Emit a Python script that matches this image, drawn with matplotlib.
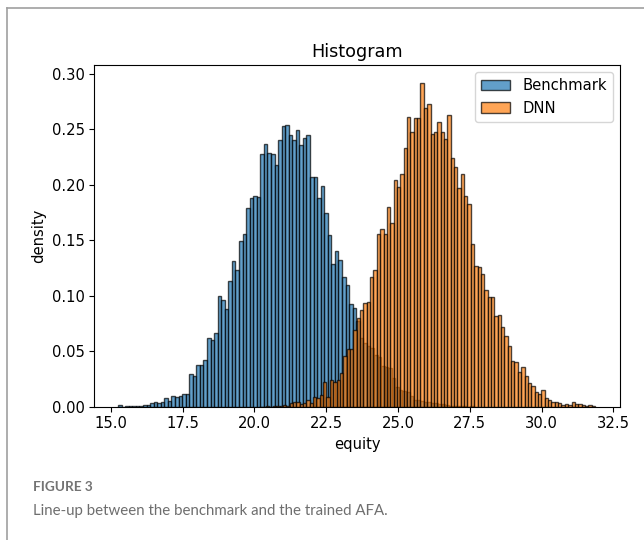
import numpy as np
import matplotlib.pyplot as plt
from matplotlib.lines import Line2D

# Benchmark histogram: 100 bins starting at 15.25
blue_start = 15.25
blue_width = 0.1238
blue_heights = [
    0.0015, 0.0, 0.0005, 0.0008, 0.0005, 0.0008, 0.001, 0.0012, 0.0015, 0.003,
    0.0045, 0.0035, 0.0045, 0.0075, 0.0055, 0.0095, 0.009, 0.010, 0.0117, 0.0117,
    0.0293, 0.0275, 0.038, 0.038, 0.042, 0.062, 0.060, 0.066, 0.100, 0.0964,
    0.088, 0.113, 0.131, 0.123, 0.149, 0.156, 0.179, 0.188, 0.190, 0.189,
    0.2275, 0.237, 0.229, 0.228, 0.218, 0.240, 0.253, 0.2535, 0.245, 0.240,
    0.249, 0.236, 0.242, 0.245, 0.207, 0.207, 0.1885, 0.199, 0.1743, 0.155,
    0.129, 0.140, 0.132, 0.117, 0.110, 0.093, 0.0887, 0.077, 0.062, 0.057,
    0.055, 0.053, 0.047, 0.045, 0.037, 0.036, 0.035, 0.026, 0.018, 0.015,
    0.014, 0.013, 0.010, 0.006, 0.006, 0.005, 0.004, 0.004, 0.003, 0.003,
    0.002, 0.002, 0.0015, 0.001, 0.001, 0.0008, 0.0005, 0.0005, 0.0, 0.0005,
]

# DNN histogram: 100 bins starting at 20.17
orange_start = 20.17
orange_width = 0.1169
orange_heights = [
    0.0, 0.0, 0.0005, 0.0, 0.0005, 0.0008, 0.001, 0.0015, 0.001, 0.0035,
    0.0045, 0.0045, 0.0025, 0.003, 0.006, 0.0036, 0.0084, 0.0075, 0.0105, 0.0225,
    0.009, 0.024, 0.0225, 0.024, 0.030, 0.046, 0.052, 0.052, 0.069, 0.080,
    0.0874, 0.0934, 0.0943, 0.1168, 0.1228, 0.1557, 0.160, 0.156, 0.1796, 0.166,
    0.2045, 0.1976, 0.2096, 0.233, 0.261, 0.248, 0.260, 0.260, 0.292, 0.2695,
    0.2725, 0.2455, 0.248, 0.257, 0.248, 0.241, 0.2626, 0.2246, 0.216, 0.1967,
    0.2096, 0.190, 0.1826, 0.147, 0.127, 0.1257, 0.1198, 0.105, 0.099, 0.0988,
    0.082, 0.083, 0.0718, 0.064, 0.0548, 0.041, 0.040, 0.031, 0.036, 0.028,
    0.021, 0.019, 0.013, 0.011, 0.015, 0.0075, 0.006, 0.0045, 0.004, 0.003,
    0.0015, 0.002, 0.0015, 0.0045, 0.002, 0.002, 0.0015, 0.001, 0.0015, 0.001,
]

blue_edges = blue_start + blue_width * np.arange(len(blue_heights) + 1)
orange_edges = orange_start + orange_width * np.arange(len(orange_heights) + 1)
blue_centers = (blue_edges[:-1] + blue_edges[1:]) / 2
orange_centers = (orange_edges[:-1] + orange_edges[1:]) / 2

fig = plt.figure(figsize=(6.44, 5.4), dpi=100)
ax = fig.add_axes([0.1464, 0.2469, 0.8163, 0.6327])

ax.hist(blue_centers, bins=blue_edges, weights=blue_heights, alpha=0.7,
        edgecolor='black', linewidth=1, label='Benchmark')
ax.hist(orange_centers, bins=orange_edges, weights=orange_heights, alpha=0.7,
        edgecolor='black', linewidth=1, label='DNN')

ax.set_title('Histogram', fontsize=12.7)
ax.set_xlabel('equity', fontsize=10.6)
ax.set_ylabel('density', fontsize=10.6)
ax.tick_params(labelsize=10.6)
ax.set_xticks([15.0, 17.5, 20.0, 22.5, 25.0, 27.5, 30.0, 32.5])
ax.set_xlim(14.42, 32.73)
ax.set_ylim(0, 0.308)
ax.legend(loc='upper right', fontsize=10.6)

# outer frame of the page
fig.add_artist(Line2D([7 / 644, 7 / 644], [0, 1 - 8 / 540], color='#a0a0a0', lw=1.2))
fig.add_artist(Line2D([7 / 644, 1], [1 - 8 / 540, 1 - 8 / 540], color='#a0a0a0', lw=1.2))

fig.text(33 / 644, 1 - 491 / 540, 'FIGURE 3', fontsize=9.8, color='#737373',
         family='Lato', weight='bold')
fig.text(33 / 644, 1 - 515 / 540, 'Line-up between the benchmark and the trained AFA.',
         fontsize=10.8, color='#6e6e6e', family='Lato')

fig.savefig('out.png')
